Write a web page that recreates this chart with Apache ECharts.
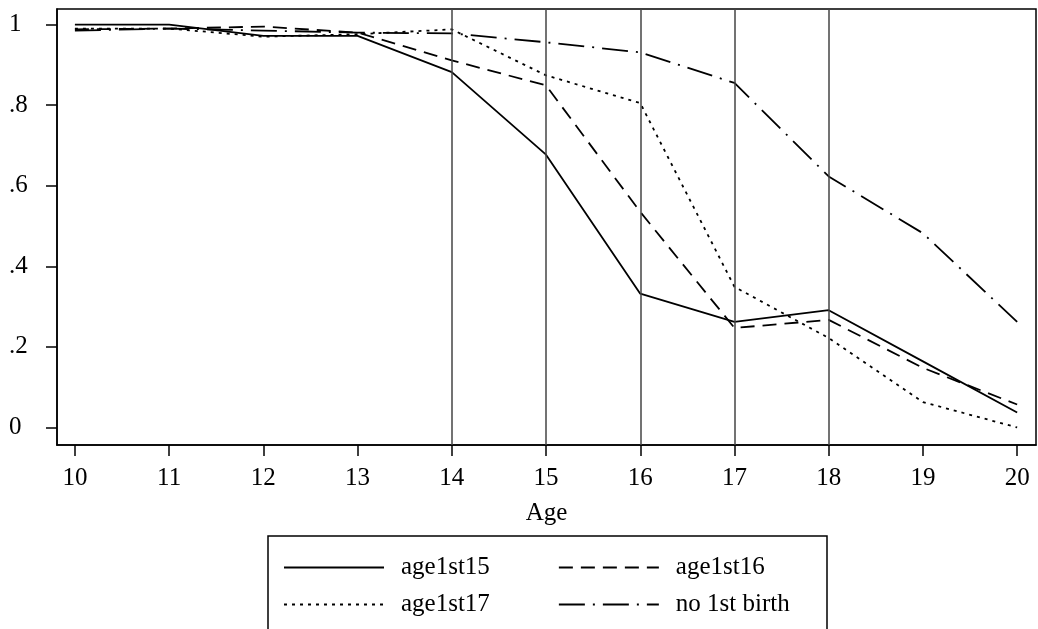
<!DOCTYPE html>
<html>
<head>
<meta charset="utf-8">
<script src="https://cdn.jsdelivr.net/npm/echarts@6/dist/echarts.min.js"></script>
<style>
  html, body { margin: 0; padding: 0; background: #fff; }
  #chart { width: 1038px; height: 629px; }
</style>
</head>
<body>
<div id="chart"></div>
<script>
// ages on x axis
var ages = [10, 11, 12, 13, 14, 15, 16, 17, 18, 19, 20];
// curves
var age1st15 = [1.0, 1.0, 0.972, 0.972, 0.882, 0.677, 0.332, 0.262, 0.291, 0.164, 0.037];
var age1st16 = [0.988, 0.99, 0.995, 0.98, 0.911, 0.849, 0.535, 0.247, 0.267, 0.148, 0.057];
var age1st17 = [0.99, 0.99, 0.97, 0.976, 0.988, 0.874, 0.805, 0.349, 0.222, 0.063, 0.0];
var noBirth  = [0.985, 0.99, 0.985, 0.98, 0.978, 0.956, 0.931, 0.855, 0.623, 0.482, 0.262];
var seriesNames = ['age1st15', 'age1st16', 'age1st17', 'no 1st birth'];
// reference lines at these ages
var refAges = [14, 15, 16, 17, 18];
// tick labels
var xTicks = [10, 11, 12, 13, 14, 15, 16, 17, 18, 19, 20];
var yTicks = [0, 0.2, 0.4, 0.6, 0.8, 1];
var yTickLabels = ['0', '.2', '.4', '.6', '.8', '1'];

var FONT = '"Liberation Serif", "Times New Roman", serif';

function pairs(vals){
    return ages.map(function(a, i){ return [a, vals[i]]; });
}

function lineSeries(name, vals, dash){
    return {
        name: name,
        type: 'line',
        data: pairs(vals),
        symbol: 'none',
        silent: true,
        color: '#000',
        lineStyle: { color: '#000', width: 1.8, type: dash }
    };
}

var chartView = echarts.init(document.getElementById('chart'));
var series = [
    lineSeries(seriesNames[0], age1st15, 'solid'),
    lineSeries(seriesNames[1], age1st16, [14, 8]),
    lineSeries(seriesNames[2], age1st17, [3, 5]),
    lineSeries(seriesNames[3], noBirth, [26, 8, 2, 8])
];
series[0].markLine = {
    silent: true,
    symbol: 'none',
    label: { show: false },
    lineStyle: { color: '#444', width: 1.5, type: 'solid' },
    data: refAges.map(function(a){ return { xAxis: a }; })
};

var legendCommon = {
    itemWidth: 100,
    itemHeight: 16,
    itemGap: 68,
    itemStyle: { opacity: 0 },
    textStyle: { fontFamily: FONT, fontSize: 25, color: '#000', padding: [0, 0, 0, 12] },
    selectedMode: false
};

chartView.setOption({
    animation: false,
    backgroundColor: '#fff',
    grid: {
        left: 57, right: 2, top: 9, bottom: 184,
        show: true, borderColor: '#000', borderWidth: 1.5
    },
    xAxis: {
        type: 'value',
        min: 9.81, max: 20.2,
        name: 'Age',
        nameLocation: 'middle',
        nameGap: 56,
        nameTextStyle: { fontFamily: FONT, fontSize: 25, color: '#000' },
        axisLine: { show: true, onZero: false, lineStyle: { color: '#000', width: 1.5 } },
        axisTick: { show: true, length: 11, customValues: xTicks, lineStyle: { color: '#000', width: 1.5 } },
        axisLabel: { customValues: xTicks, margin: 21, fontFamily: FONT, fontSize: 25, color: '#000' },
        splitLine: { show: false }
    },
    yAxis: {
        type: 'value',
        min: -0.0435, max: 1.0386,
        axisLine: { show: true, onZero: false, lineStyle: { color: '#000', width: 1.5 } },
        axisTick: { show: true, length: 11, customValues: yTicks, lineStyle: { color: '#000', width: 1.5 } },
        axisLabel: {
            customValues: yTicks, margin: 48, align: 'left',
            fontFamily: FONT, fontSize: 25, color: '#000',
            formatter: function(v){ return yTickLabels[yTicks.indexOf(Math.round(v * 10) / 10)]; }
        },
        splitLine: { show: false }
    },
    legend: [
        Object.assign({}, legendCommon, { left: 278, top: 550, data: [seriesNames[0], seriesNames[1]] }),
        Object.assign({}, legendCommon, { left: 278, top: 587, data: [seriesNames[2], seriesNames[3]] })
    ],
    graphic: [{
        type: 'rect',
        shape: { x: 268, y: 536, width: 559, height: 130 },
        style: { fill: 'none', stroke: '#000', lineWidth: 1.5 },
        silent: true
    }],
    series: series
});
</script>
</body>
</html>
